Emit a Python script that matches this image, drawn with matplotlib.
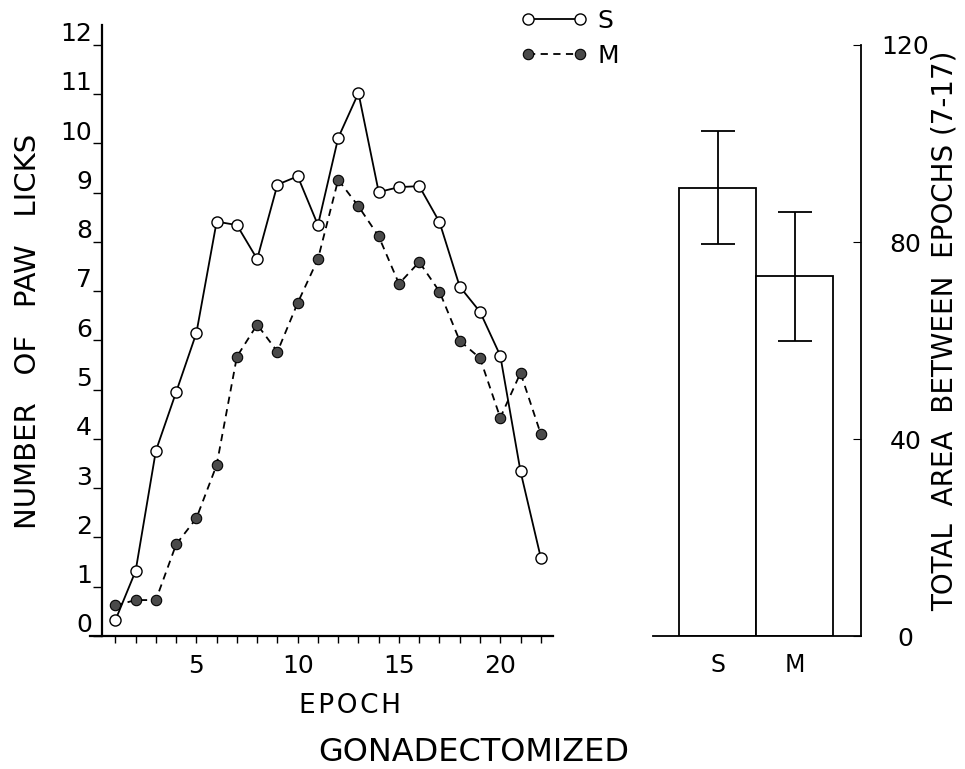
import numpy as np
import matplotlib
matplotlib.use("Agg")
import matplotlib.pyplot as plt
import matplotlib.transforms as mtransforms
from matplotlib.ticker import FixedLocator

plt.rcParams['font.family'] = ['DejaVu Sans']

# paw licks per epoch
epochs = np.arange(1, 23)
s_licks = [0.32, 1.32, 3.76, 4.95, 6.15, 8.41, 8.34, 7.65, 9.16, 9.33, 8.34,
           10.11, 11.02, 9.01, 9.11, 9.13, 8.40, 7.09, 6.58, 5.69, 3.34, 1.59]
m_licks = [0.62, 0.73, 0.73, 1.86, 2.39, 3.47, 5.67, 6.32, 5.77, 6.76, 7.65,
           9.26, 8.72, 8.11, 7.15, 7.59, 6.99, 5.99, 5.64, 4.43, 5.34, 4.10]

# total area, epochs 7-17
groups = ['S', 'M']
area = [91.0, 73.0]
area_err = [11.5, 13.0]

fig = plt.figure(figsize=(9.65, 7.69), dpi=100)

ax = fig.add_axes([0.0933, 0.1729, 0.4797, 0.7946])
ax.plot(epochs, m_licks, color='black', lw=1.3, ls=(0, (4, 3)), marker='o',
        ms=7.5, mfc='#4a4a4a', mec='black', mew=0.8, label='M', zorder=2)
ax.plot(epochs, s_licks, color='black', lw=1.3, ls='-', marker='o',
        ms=8, mfc='white', mec='black', mew=1.0, label='S', zorder=3)
ax.set_xlim(-0.25, 22.6)
ax.set_ylim(0, 12.4)
ax.spines['top'].set_visible(False)
ax.spines['right'].set_visible(False)
ax.spines['left'].set_position(('data', 0.35))
ax.spines['left'].set_linewidth(1.6)
ax.spines['bottom'].set_linewidth(1.6)
ax.set_yticks(range(0, 13))
ax.set_yticklabels([str(i) for i in range(0, 13)])
ax.xaxis.set_major_locator(FixedLocator([5, 10, 15, 20]))
ax.xaxis.set_minor_locator(FixedLocator(list(epochs)))
ax.tick_params(axis='x', which='both', direction='out', length=5, width=1.0,
               labelsize=18, pad=8)
ax.tick_params(axis='y', direction='out', length=6.5, width=1.0, labelsize=18, pad=1)
for lab in ax.get_yticklabels():
    lab.set_va('bottom')
    lab.set_transform(lab.get_transform() +
                      mtransforms.ScaledTranslation(0, -1 / 72, fig.dpi_scale_trans))

fig.text(0.029, 0.5696, 'NUMBER   OF   PAW   LICKS', rotation=90, fontsize=21,
         ha='center', va='center')
fig.text(0.363, 0.082, 'E\u200aP\u200aO\u200aC\u200aH', fontsize=19,
         ha='center', va='center')
fig.text(0.491, 0.022, 'GONADECTOMIZED', fontsize=23, ha='center', va='center')

leg = fig.legend(handles=ax.get_lines()[::-1], labels=['S', 'M'], numpoints=2,
                 handlelength=2.7, loc='upper left', bbox_to_anchor=(0.539, 0.988),
                 frameon=False, fontsize=18, handletextpad=0.4, labelspacing=0.42,
                 borderpad=0, borderaxespad=0)

ax2 = fig.add_axes([0.6767, 0.1729, 0.2155, 0.7686])
ax2.bar([0, 1], area, width=1.0, color='white', edgecolor='black', lw=1.3)
ax2.errorbar([0, 1], area, yerr=area_err, fmt='none', ecolor='black',
             elinewidth=1.3, capsize=12, capthick=1.3)
ax2.set_xlim(-0.84, 1.86)
ax2.set_ylim(0, 120)
ax2.spines['top'].set_visible(False)
ax2.spines['left'].set_visible(False)
ax2.spines['right'].set_linewidth(1.3)
ax2.spines['bottom'].set_linewidth(1.3)
ax2.yaxis.tick_right()
ax2.set_yticks([0, 40, 80, 120])
ax2.tick_params(axis='y', direction='in', length=6, labelsize=18, pad=32)
for lab in ax2.get_yticklabels():
    lab.set_ha('center')
ax2.set_xticks([0, 1])
ax2.set_xticklabels(groups)
ax2.tick_params(axis='x', length=0, labelsize=17, pad=12)
fig.text(0.979, 0.57, 'TOTAL  AREA  BETWEEN  EPOCHS (7-17)', rotation=90,
         fontsize=20, ha='center', va='center')

fig.savefig('out.png', dpi=100)
